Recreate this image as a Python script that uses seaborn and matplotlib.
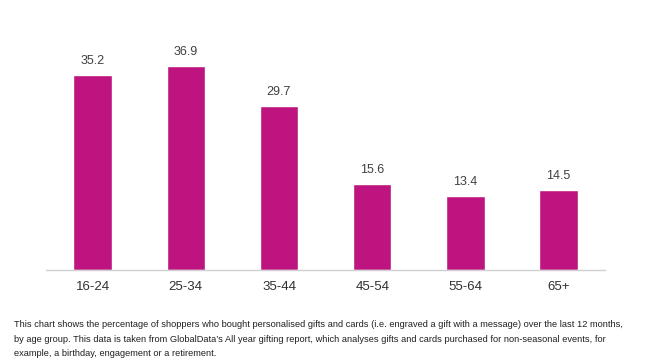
import matplotlib
matplotlib.use("Agg")
import matplotlib.pyplot as plt
import seaborn as sns
import pandas as pd

age_groups = ['16-24', '25-34', '35-44', '45-54', '55-64', '65+']
shares = [35.2, 36.9, 29.7, 15.6, 13.4, 14.5]

caption = ("This chart shows the percentage of shoppers who bought personalised gifts and cards (i.e. engraved a gift with a message) over the last 12 months,\n"
           "by age group. This data is taken from GlobalData\u2019s All year gifting report, which analyses gifts and cards purchased for non-seasonal events, for\n"
           "example, a birthday, engagement or a retirement.")

df = pd.DataFrame({'age': age_groups, 'share': shares})

sns.set_style('white')
plt.rcParams['font.family'] = ['Liberation Sans', 'DejaVu Sans']

fig = plt.figure(figsize=(6.45, 3.63), dpi=100)
ax = fig.add_axes([0.0713, 0.256, 0.867, 0.61])

sns.barplot(data=df, x='age', y='share', color='#BE1480', width=0.41,
            saturation=1, ax=ax)

for i, v in enumerate(shares):
    ax.text(i, v + 1.4, f'{v}', ha='center', va='bottom', fontsize=9, color='#404040')

ax.set_ylim(0, 40)
ax.set_xlim(-0.5, 5.5)
ax.set_yticks([])
ax.set_xlabel('')
ax.set_ylabel('')
for s in ['top', 'right', 'left']:
    ax.spines[s].set_visible(False)
ax.spines['bottom'].set_color('#D0D0D0')
ax.spines['bottom'].set_linewidth(1)
ax.tick_params(axis='x', length=0, pad=8, labelsize=9.5, labelcolor='#303030')

fig.text(0.022, 0.118, caption, ha='left', va='top', fontsize=6.65,
         color='#202020', linespacing=1.8)

plt.savefig('out.png', dpi=100)
plt.close()
